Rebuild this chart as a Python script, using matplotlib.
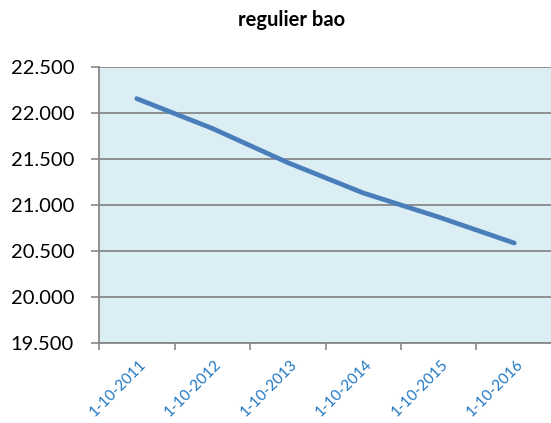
import numpy as np
import matplotlib.pyplot as plt

# data
dates = ['1-10-2011', '1-10-2012', '1-10-2013', '1-10-2014', '1-10-2015', '1-10-2016']
values = [22156, 21833, 21461, 21131, 20869, 20587]
yticks = [19500, 20000, 20500, 21000, 21500, 22000, 22500]
ylabels = ['19.500', '20.000', '20.500', '21.000', '21.500', '22.000', '22.500']

plt.rcParams['font.family'] = ['Lato', 'DejaVu Sans']

fig = plt.figure(figsize=(5.51, 4.23), dpi=100)
ax = fig.add_axes([0.1797, 0.189, 0.8221, 0.6526])
ax.set_facecolor('#DBEEF4')

x = np.arange(len(dates))
ax.plot(x, values, color='#4A7EBB', lw=3.4, solid_capstyle='round', zorder=3)

ax.set_xlim(-0.5, len(dates) - 0.5)
ax.set_ylim(19500, 22500)
ax.set_yticks(yticks)
ax.set_yticklabels(ylabels, fontsize=14.5)
ax.set_xticks(np.arange(len(dates) + 1) - 0.5)
ax.set_xticklabels([])
ax.set_xticks(x + 0.03, minor=True)
ax.set_xticklabels(dates, minor=True, rotation=45, ha='right', va='top',
                   rotation_mode='anchor', color='#1F77C4', fontsize=11)
ax.tick_params(axis='x', which='minor', length=0, pad=10)
ax.tick_params(axis='x', which='major', length=5, color='#888888', width=1.2)
ax.tick_params(axis='y', length=6, color='#888888', width=1.2, pad=12)

ax.grid(axis='y', color='#888888', lw=1.3)
ax.set_axisbelow(True)
for s in ['top', 'right']:
    ax.spines[s].set_visible(False)
for s in ['left', 'bottom']:
    ax.spines[s].set_color('#888888')
    ax.spines[s].set_linewidth(1.3)

fig.text(0.529, 0.952, 'regulier bao', ha='center', va='center',
         fontsize=14.5, fontweight='bold')

fig.savefig('out.png', dpi=100)
